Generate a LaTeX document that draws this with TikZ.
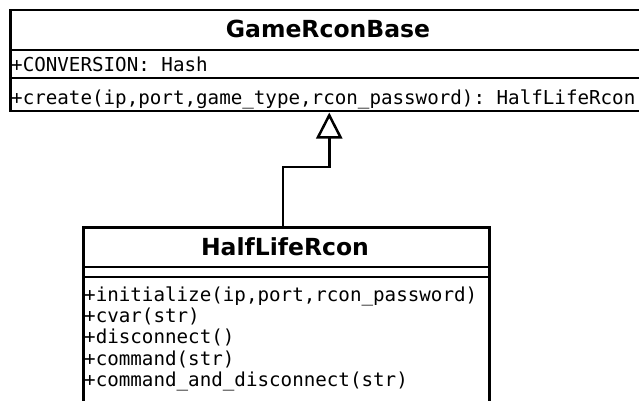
\documentclass[tikz,border=0pt]{standalone}
\usepackage{fontspec}
\setmainfont{DejaVu Sans}
\setmonofont{DejaVu Sans Mono}
\usetikzlibrary{arrows.meta}
\tikzset{
  classbox/.style={draw, line width=2.5pt, rectangle, inner sep=0pt, anchor=north west},
  sep/.style={line width=2.5pt},
  title/.style={font=\fontsize{23.5}{26}\selectfont\bfseries, inner sep=0pt, anchor=base},
  member/.style={font=\fontsize{19.2}{21.3}\selectfont\ttfamily, inner sep=0pt, anchor=base west},
  inherit/.style={line width=2.5pt, -{Triangle[open, length=26pt, width=26pt, line width=2.5pt]}}
}
\begin{document}
\begin{tikzpicture}[x=1pt, y=-1pt]
\useasboundingbox (0,0) rectangle (639,401);
\clip (0,0) rectangle (639,401);
% GameRconBase
\node[classbox, minimum width=638pt, minimum height=101pt] (base) at (9,9) {};
\draw[sep] (9,50) -- (647,50);
\draw[sep] (9,78) -- (647,78);
\node[title] (basetitle) at (328,38) {GameRconBase};
\node[member] (baseattr) at (11,72) {+CONVERSION: Hash};
\node[member] (baseop) at (11,105) {+create(ip,port,game\_type,rcon\_password): HalfLifeRcon};
% HalfLifeRcon
\node[classbox, minimum width=406pt, minimum height=200pt] (hl) at (82,226) {};
\draw[sep] (82,267) -- (488,267);
\draw[sep] (82,277) -- (488,277);
\node[title] (hltitle) at (285,255) {HalfLifeRcon};
\node[member] (m1) at (84,301) {+initialize(ip,port,rcon\_password)};
\node[member] (m2) at (84,322.3) {+cvar(str)};
\node[member] (m3) at (84,343.6) {+disconnect()};
\node[member] (m4) at (84,365) {+command(str)};
\node[member] (m5) at (84,386.3) {+command\_and\_disconnect(str)};
% generalization
\draw[inherit] (hl.north -| 283,0) -- (283,167) -| (base.south);
\end{tikzpicture}
\end{document}
